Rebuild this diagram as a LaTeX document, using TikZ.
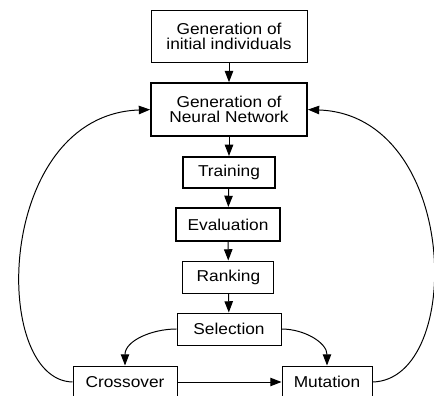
\documentclass[tikz,border=0pt]{standalone}
\usepackage{fontspec}
\setmainfont{Liberation Sans}[FakeStretch=1.1]
\usepackage{tikz}
\usetikzlibrary{positioning, arrows.meta}

\begin{document}
\begin{tikzpicture}[
    stage/.style={draw, rectangle, line width=0.7pt, align=center, inner sep=0pt, font=\fontsize{11.2}{10.5}\selectfont},
    stagebold/.style={stage, line width=1.3pt},
    flow/.style={-{Triangle[length=8pt, width=6pt]}, line width=0.7pt}
]

    % Fix the frame of the picture
    \useasboundingbox (0,0) rectangle (10.85,9.9);

    % Define the stages of the loop
    \node[stage, minimum width=3.9cm, minimum height=1.3cm] (init) at (5.725,9.0) {Generation of\\initial individuals};
    \node[stagebold, minimum width=3.9cm, minimum height=1.325cm] (net) at (5.725,7.16) {Generation of\\Neural Network};
    \node[stagebold, minimum width=2.3cm, minimum height=0.775cm] (train) at (5.725,5.59) {Training};
    \node[stagebold, minimum width=2.6cm, minimum height=0.825cm] (eval) at (5.7,4.29) {Evaluation};
    \node[stage, minimum width=2.275cm, minimum height=0.8cm] (rank) at (5.71,2.975) {Ranking};
    \node[stage, minimum width=2.6cm, minimum height=0.8cm] (sel) at (5.725,1.675) {Selection};
    \node[stage, minimum width=2.6cm, minimum height=0.8cm] (cross) at (3.125,0.35) {Crossover};
    \node[stage, minimum width=2.25cm, minimum height=0.8cm] (mut) at (8.175,0.35) {Mutation};

    % Straight arrows down the middle
    \draw[flow] (init) -- (net);
    \draw[flow] (net) -- (train);
    \draw[flow] (train) -- (eval);
    \draw[flow] (eval) -- (rank);
    \draw[flow] (rank) -- (sel);

    % Selection splits into the two operators
    \draw[flow] (sel.west) to[out=180, in=90] (cross.north);
    \draw[flow] (sel.east) to[out=0, in=90] (mut.north);
    \draw[flow] (cross) -- (mut);

    % Loops back to the network
    \draw[flow] (cross.west) .. controls (-0.25,0.4) and (-0.125,7.025) .. (net.west);
    \draw[flow] (mut.east) .. controls (11.625,0.4) and (11.5,7.025) .. (net.east);

\end{tikzpicture}
\end{document}
